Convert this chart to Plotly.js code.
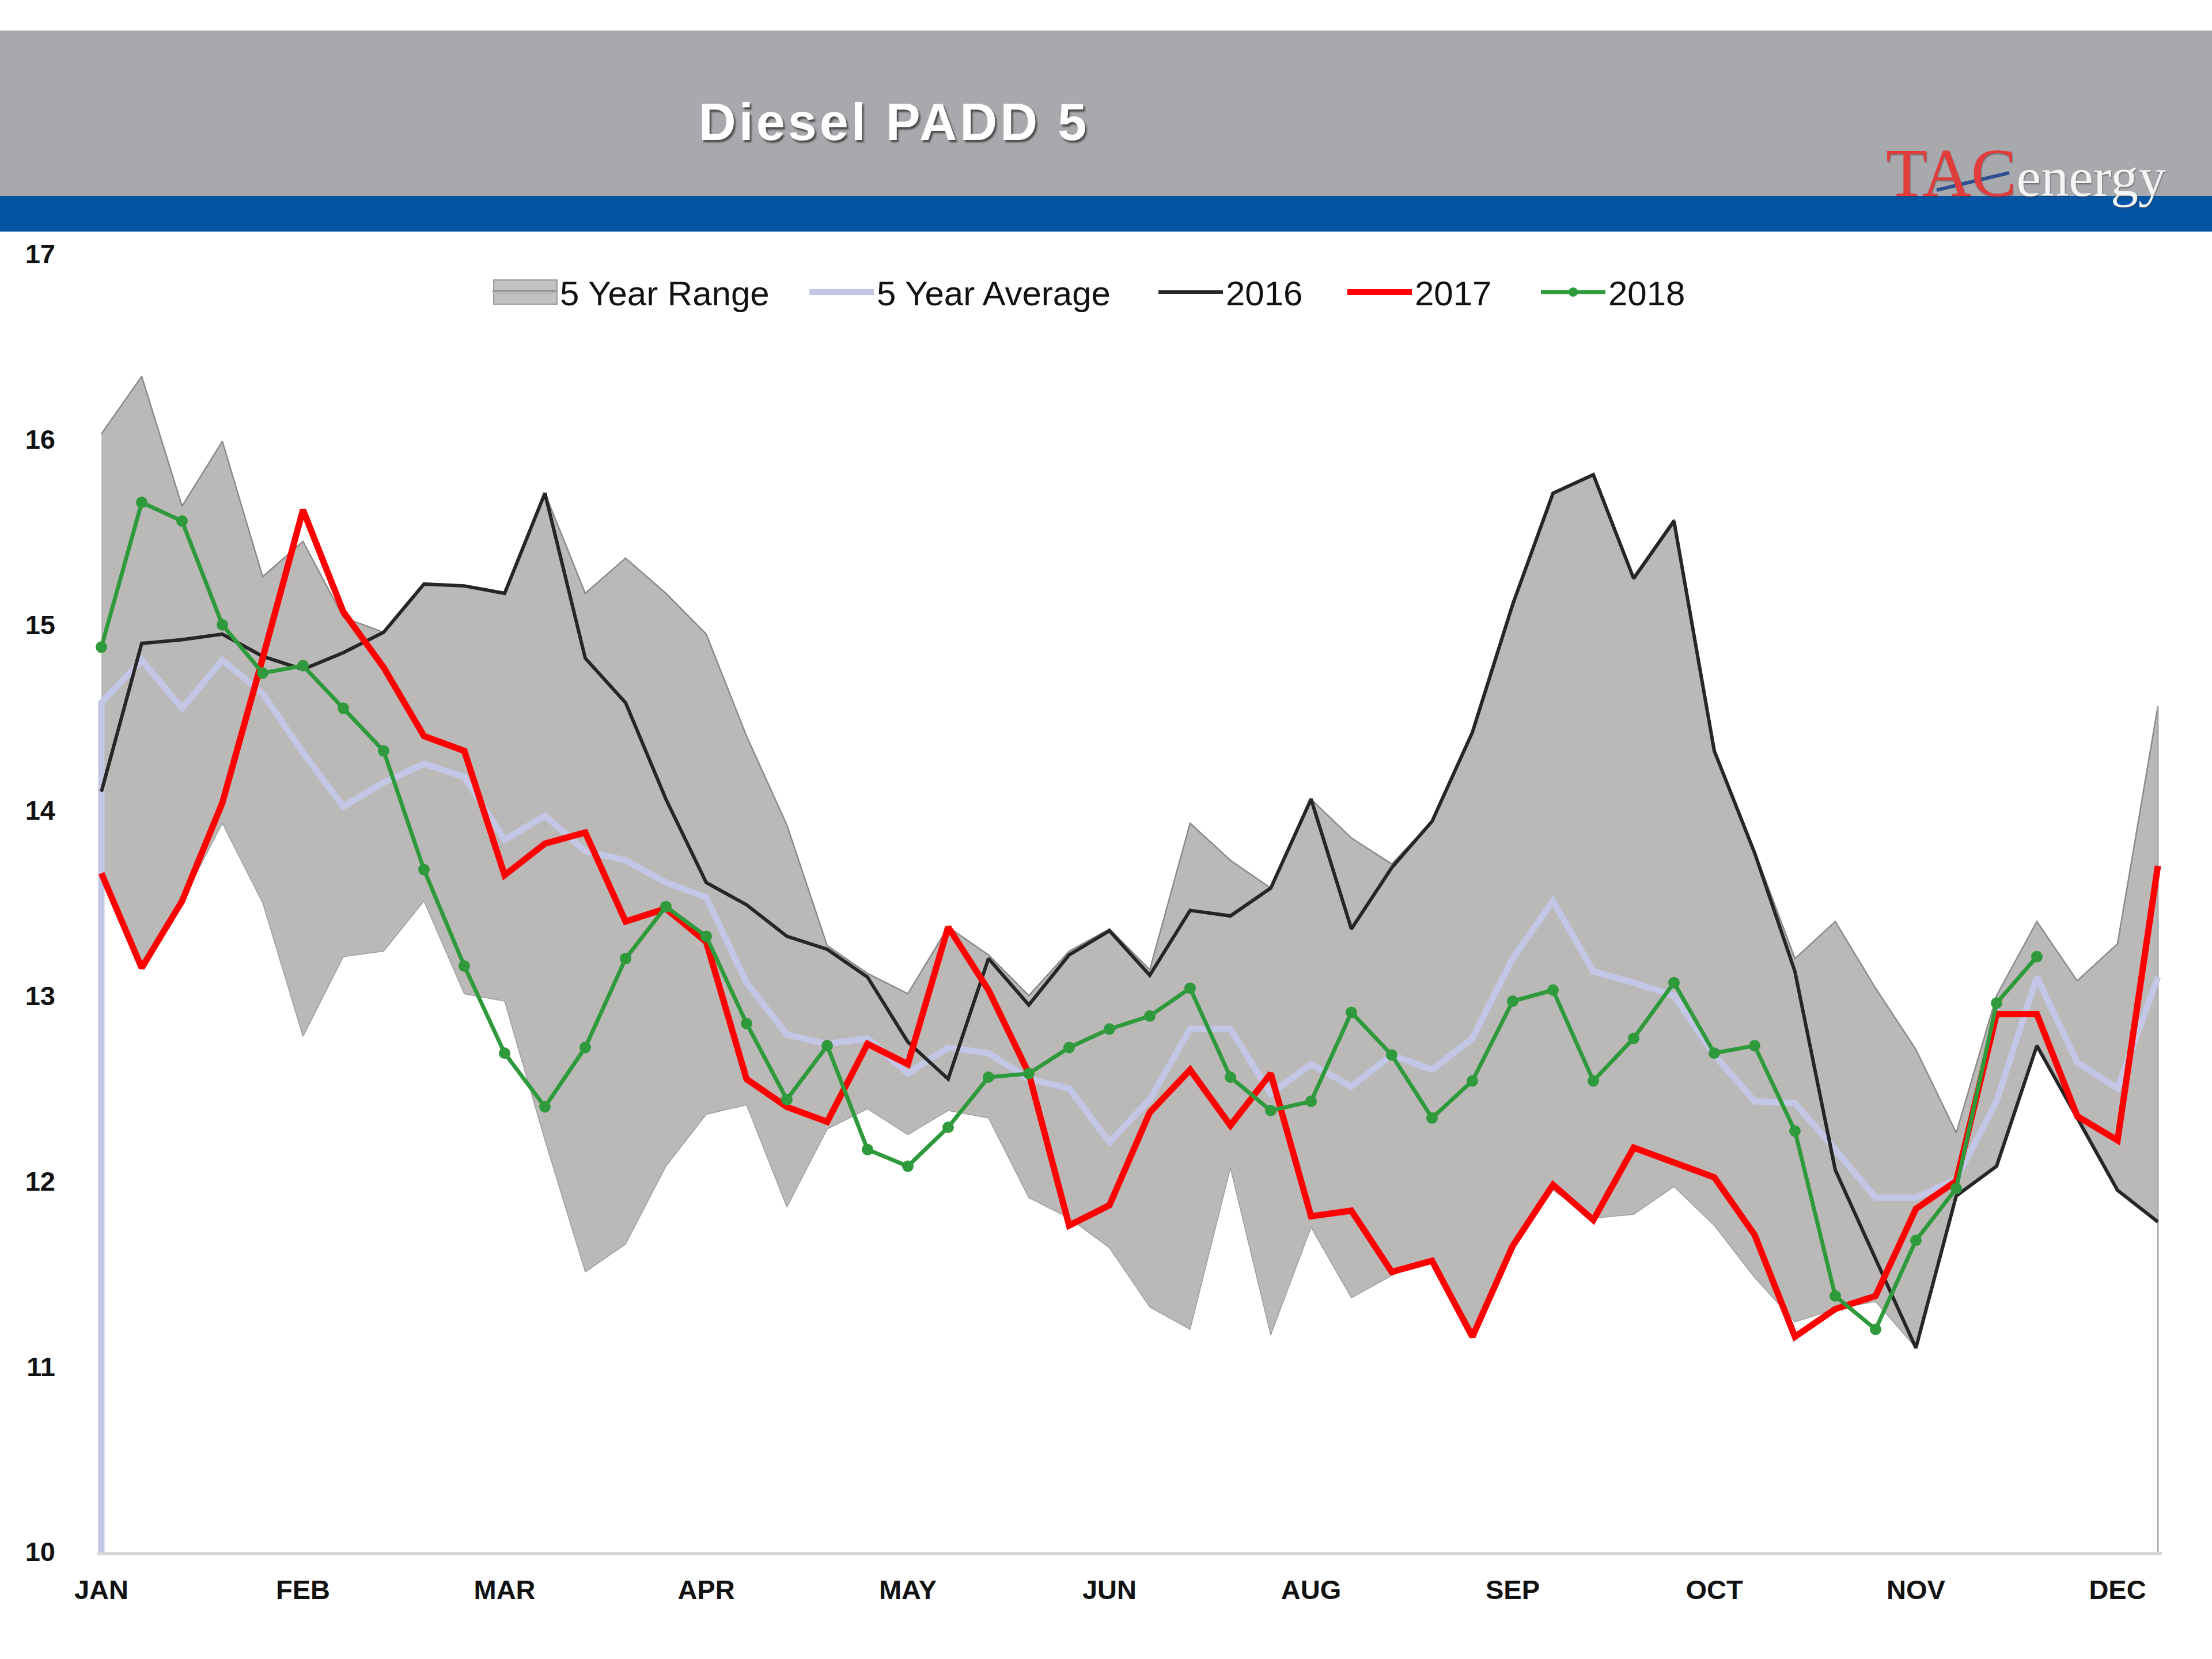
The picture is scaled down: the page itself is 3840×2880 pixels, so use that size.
<!DOCTYPE html>
<html>
<head>
<meta charset="utf-8">
<script src="https://cdn.plot.ly/plotly-3.0.1.min.js"></script>
<style>
  html, body { margin: 0; padding: 0; background: #ffffff; }
  #chart { width: 3840px; height: 2880px; }
  .gtitle { letter-spacing: 5px; }
</style>
</head>
<body>
<div id="chart"></div>
<script>
// ---------------- DATA ----------------
const weeks = [1,2,3,4,5,6,7,8,9,10,11,12,13,14,15,16,17,18,19,20,21,22,23,24,25,26,
               27,28,29,30,31,32,33,34,35,36,37,38,39,40,41,42,43,44,45,46,47,48,49,50,51,52];

const monthLabels = ["JAN","FEB","MAR","APR","MAY","JUN","AUG","SEP","OCT","NOV","DEC"];
const monthTickWeeks = [1,6,11,16,21,26,31,36,41,46,51];
const yTickValues = [10,11,12,13,14,15,16,17];

const rangeMax = [16.03,16.34,15.64,15.99,15.26,15.45,15.04,14.96,15.22,15.21,15.17,15.71,15.17,15.36,15.17,14.95,
                  14.40,13.92,13.27,13.12,13.01,13.37,13.22,13.00,13.24,13.36,13.14,13.93,13.73,13.58,14.06,13.85,
                  13.71,13.94,14.42,15.12,15.71,15.81,15.26,15.57,14.32,13.78,13.20,13.40,13.04,12.71,12.26,13.00,
                  13.40,13.08,13.28,14.56];

const rangeMin = [13.62,13.16,13.51,13.93,13.50,12.78,13.21,13.24,13.51,13.01,12.97,12.22,11.51,11.66,12.08,12.36,
                  12.41,11.86,12.28,12.39,12.25,12.38,12.34,11.91,11.80,11.64,11.32,11.20,12.07,11.17,11.75,11.37,
                  11.49,11.58,11.20,11.66,11.95,11.80,11.82,11.97,11.76,11.48,11.24,11.31,11.35,11.10,11.92,12.08,
                  12.74,12.36,11.96,11.78];

const avg5 = [14.58,14.81,14.55,14.81,14.63,14.31,14.02,14.15,14.25,14.18,13.84,13.97,13.78,13.73,13.61,13.53,
              13.07,12.79,12.74,12.77,12.58,12.72,12.69,12.55,12.50,12.21,12.44,12.82,12.82,12.47,12.63,12.51,
              12.68,12.60,12.77,13.20,13.51,13.13,13.07,13.00,12.68,12.43,12.42,12.17,11.91,11.91,12.01,12.43,
              13.10,12.64,12.50,13.10];

const y2016 = [14.10,14.90,14.92,14.95,14.83,14.76,14.85,14.96,15.22,15.21,15.17,15.71,14.82,14.58,14.06,13.61,
               13.49,13.32,13.25,13.10,12.75,12.55,13.20,12.95,13.22,13.35,13.11,13.46,13.43,13.58,14.06,13.36,
               13.69,13.94,14.42,15.11,15.71,15.81,15.25,15.56,14.32,13.77,13.13,12.06,11.58,11.10,11.92,12.08,
               12.73,12.34,11.95,11.78];

const y2017 = [13.66,13.15,13.51,14.04,14.82,15.62,15.07,14.77,14.40,14.32,13.65,13.82,13.88,13.40,13.47,13.29,
               12.55,12.40,12.32,12.74,12.63,13.37,13.03,12.58,11.76,11.87,12.37,12.60,12.30,12.58,11.81,11.84,
               11.51,11.57,11.16,11.65,11.98,11.79,12.18,12.10,12.02,11.71,11.16,11.31,11.38,11.85,12.00,12.90,
               12.90,12.35,12.22,13.70];

const y2018 = [14.88,15.66,15.56,15.00,14.74,14.78,14.55,14.32,13.68,13.16,12.69,12.40,12.72,13.20,13.48,13.32,
               12.85,12.44,12.73,12.17,12.08,12.29,12.56,12.58,12.72,12.82,12.89,13.04,12.56,12.38,12.43,12.91,
               12.68,12.34,12.54,12.97,13.03,12.54,12.77,13.07,12.69,12.73,12.27,11.38,11.20,11.68,11.96,12.96,
               13.21];

// ---------------- LAYOUT HELPERS ----------------
const FIG_W = 3840, FIG_H = 2880;
const M = { l: 169, r: 87, t: 441, b: 186 };
const PW = FIG_W - M.l - M.r, PH = FIG_H - M.t - M.b;
const pxX = px => (px - M.l) / PW;
const pxY = py => (M.t + PH - py) / PH;
const Y_MIN = 10, Y_MAX = 17;
const FONT = "'Liberation Sans', Arial, sans-serif";
const LEGEND_Y = 507;

const last = weeks.length - 1;

const traces = [
  { // lower edge of 5-year range
    x: weeks, y: rangeMin, mode: 'lines', name: '5 Year Min',
    line: { color: '#9e9c9c', width: 1.5 }, showlegend: false, hoverinfo: 'skip'
  },
  { // upper edge, filled down to the lower edge
    x: weeks, y: rangeMax, mode: 'lines', name: '5 Year Range', legend: 'legend',
    fill: 'tonexty', fillcolor: '#bbb8b8',
    line: { color: '#8b8989', width: 2.5 }
  },
  { // right edge of the range area
    x: [weeks[last], weeks[last]], y: [Y_MIN, rangeMax[last]], mode: 'lines',
    line: { color: '#a9a9ad', width: 3 }, showlegend: false, hoverinfo: 'skip'
  },
  {
    x: [weeks[0]].concat(weeks), y: [Y_MIN].concat(avg5), mode: 'lines', name: '5 Year Average',
    legend: 'legend2',
    line: { color: '#c4c6e6', width: 11 }
  },
  {
    x: weeks, y: y2016, mode: 'lines', name: '2016', legend: 'legend3',
    line: { color: '#262626', width: 6 }
  },
  {
    x: weeks, y: y2017, mode: 'lines', name: '2017', legend: 'legend4',
    line: { color: '#ff0000', width: 11 }
  },
  {
    x: weeks.slice(0, y2018.length), y: y2018, mode: 'lines+markers', name: '2018', legend: 'legend5',
    line: { color: '#2f9a3b', width: 7 },
    marker: { color: '#2f9a3b', size: 20 },
    cliponaxis: false
  }
];

function legendAt(px) {
  return {
    orientation: 'h',
    x: pxX(px), xanchor: 'left',
    y: pxY(LEGEND_Y), yanchor: 'middle',
    font: { family: FONT, size: 60, color: '#111111' },
    bgcolor: 'rgba(0,0,0,0)',
    borderwidth: 0,
    itemwidth: 112
  };
}

const layout = {
  width: FIG_W, height: FIG_H,
  margin: M,
  paper_bgcolor: '#ffffff', plot_bgcolor: '#ffffff',
  font: { family: FONT, color: '#111111' },
  showlegend: true,
  title: {
    text: 'Diesel PADD 5',
    font: { family: FONT, size: 90, color: '#ffffff', weight: 700,
            shadow: '3px 4px 3px rgba(45,45,45,0.75)' },
    xref: 'container', yref: 'container',
    x: 1552 / FIG_W, xanchor: 'center',
    y: 1 - 211 / FIG_H, yanchor: 'middle'
  },
  xaxis: {
    range: [0.9, 52.1],
    tickmode: 'array', tickvals: monthTickWeeks, ticktext: monthLabels,
    ticks: '', showgrid: false, zeroline: false,
    showline: true, linecolor: '#d6d6d6', linewidth: 6,
    tickfont: { family: FONT, size: 47, weight: 700, color: '#111111' },
    ticklabelstandoff: 20,
    fixedrange: true
  },
  yaxis: {
    range: [Y_MIN, Y_MAX],
    tickmode: 'array', tickvals: yTickValues,
    ticks: '', showgrid: false, zeroline: false, showline: false,
    tickfont: { family: FONT, size: 47, weight: 700, color: '#111111' },
    ticklabelstandoff: 72,
    fixedrange: true
  },
  legend: legendAt(850),
  legend2: legendAt(1400),
  legend3: legendAt(2006),
  legend4: legendAt(2334),
  legend5: legendAt(2670),
  shapes: [
    { type: 'rect', xref: 'paper', yref: 'paper', layer: 'below',
      x0: pxX(0), x1: pxX(FIG_W), y0: pxY(340), y1: pxY(53),
      fillcolor: '#a8a9ad', line: { width: 0 } },
    { type: 'rect', xref: 'paper', yref: 'paper', layer: 'below',
      x0: pxX(0), x1: pxX(FIG_W), y0: pxY(402), y1: pxY(340),
      fillcolor: '#0454a4', line: { width: 0 } },
    { type: 'line', xref: 'paper', yref: 'paper', layer: 'above',
      x0: pxX(3362), y0: pxY(330), x1: pxX(3488), y1: pxY(300),
      line: { color: '#2d4f94', width: 6 } },
    { // legend swatch box for the 5-year range
      type: 'rect', xref: 'paper', yref: 'paper', layer: 'above',
      x0: pxX(857), x1: pxX(967), y0: pxY(LEGEND_Y + 21), y1: pxY(LEGEND_Y - 21),
      fillcolor: '#c4c1c1', line: { color: '#9a9898', width: 2 } }
  ],
  annotations: [
    { xref: 'paper', yref: 'paper', showarrow: false,
      x: pxX(3762), xanchor: 'right',
      y: pxY(368), yanchor: 'bottom',
      text: '<span style="color:#e23b3b;font-size:118px">TAC</span>energy',
      font: { family: "'Liberation Serif', 'Times New Roman', serif", size: 96, color: '#f4f4f4',
              shadow: '1px 2px 2px rgba(60,60,60,0.5)' } }
  ]
};

Plotly.newPlot('chart', traces, layout, { displayModeBar: false, staticPlot: true });
</script>
</body>
</html>
